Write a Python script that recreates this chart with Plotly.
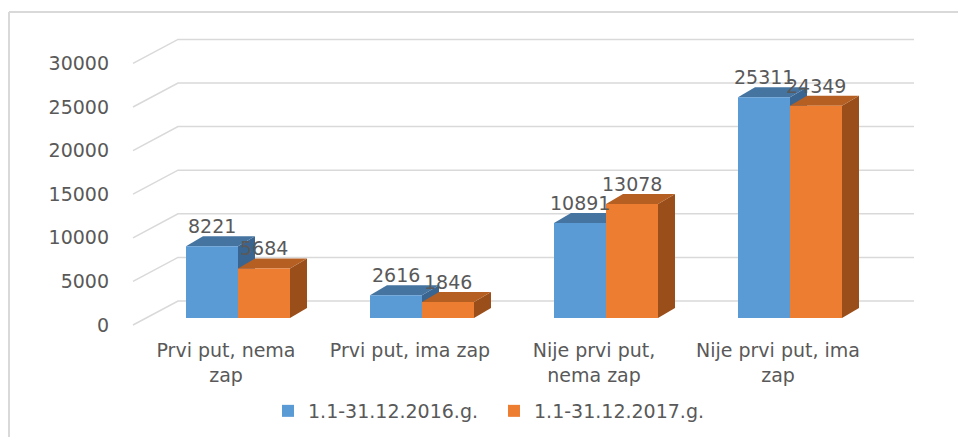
import plotly.graph_objects as go

# ---------------- data ----------------
categories = ["Prvi put, nema zap", "Prvi put, ima zap",
              "Nije prvi put, nema zap", "Nije prvi put, ima zap"]
tick_labels = ["Prvi put, nema<br>zap", "Prvi put, ima zap",
               "Nije prvi put,<br>nema zap", "Nije prvi put, ima<br>zap"]
series_names = ["1.1-31.12.2016.g.", "1.1-31.12.2017.g."]
values_2016 = [8221, 2616, 10891, 25311]
values_2017 = [5684, 1846, 13078, 24349]
y_ticks = [0, 5000, 10000, 15000, 20000, 25000, 30000]
y_tick_labels = ["0", "5000", "10000", "15000", "20000", "25000", "30000"]

# ---------------- layout geometry (pixels) ----------------
W, H = 958, 437
L, R, T, B = 120, 930, 20, 330          # plot area
CAT_PX = 184                              # spacing between categories
CAT0_PX = 238                             # pixel x of category 0 centre
Y0_PX = 318                               # pixel y of value 0 at bar depth
PX_PER_UNIT = 43.6 / 5000

def ux(px):
    return px / CAT_PX

def uy(px):
    return px / PX_PER_UNIT

def xpx(px):
    return (px - CAT0_PX) / CAT_PX

x_range = [xpx(L), xpx(R)]
y_range = [-uy(B - Y0_PX), uy(Y0_PX - T)]

BAR_W = ux(52)
DDX, DDY = ux(17), uy(10)                 # bar depth offsets
FRONT_X, BACK_X, RIGHT_X = xpx(133), xpx(178), xpx(914)
FRONT_DY, BACK_DY = uy(-7), uy(17)

GRID = "#d9d9d9"
TXT = "#595959"
FONT = "DejaVu Sans"
FS = 19

colors = {
    "front": ["#5b9bd5", "#ed7d31"],
    "top": ["#4574a1", "#b55f22"],
    "side": ["#3a6591", "#9a4f1b"],
}

fig = go.Figure()
shapes = []

# back wall / side wall gridlines
for v in y_ticks:
    path = (f"M{FRONT_X},{v + FRONT_DY} L{BACK_X},{v + BACK_DY} "
            f"L{RIGHT_X},{v + BACK_DY}")
    shapes.append(dict(type="path", path=path, xref="x", yref="y",
                       line=dict(color=GRID, width=1.5), layer="below"))

series = [values_2016, values_2017]
offsets = [-BAR_W, 0.0]
for s, vals in enumerate(series):
    fig.add_trace(go.Bar(
        x=list(range(len(categories))), y=vals, name=series_names[s],
        width=BAR_W, offset=offsets[s],
        marker=dict(color=colors["front"][s], line=dict(width=0)),
        customdata=categories,
        hovertemplate="%{customdata}<br>%{y}<extra>" + series_names[s] + "</extra>",
    ))
    for i, v in enumerate(vals):
        x0 = i + offsets[s]
        x1 = x0 + BAR_W
        side = (f"M{x1},0 L{x1 + DDX},{DDY} L{x1 + DDX},{v + DDY} "
                f"L{x1},{v} Z")
        top = (f"M{x0},{v} L{x0 + DDX},{v + DDY} L{x1 + DDX},{v + DDY} "
               f"L{x1},{v} Z")
        shapes.append(dict(type="path", path=side, xref="x", yref="y",
                           fillcolor=colors["side"][s], line=dict(width=0),
                           layer="below"))
        shapes.append(dict(type="path", path=top, xref="x", yref="y",
                           fillcolor=colors["top"][s], line=dict(width=0),
                           layer="below"))

# data labels
annotations = []
for s, vals in enumerate(series):
    for i, v in enumerate(vals):
        annotations.append(dict(
            x=i + offsets[s] + BAR_W / 2, y=v, xref="x", yref="y",
            text=str(v), showarrow=False, yshift=20, yanchor="middle",
            font=dict(family=FONT, size=FS, color=TXT)))

# chart frame (left and top edges)
def px_paper_x(px):
    return (px - L) / (R - L)

def px_paper_y(py):
    return (B - py) / (B - T)

shapes.append(dict(type="line", xref="paper", yref="paper",
                   x0=px_paper_x(9), x1=px_paper_x(958),
                   y0=px_paper_y(12), y1=px_paper_y(12),
                   line=dict(color=GRID, width=2)))
shapes.append(dict(type="line", xref="paper", yref="paper",
                   x0=px_paper_x(9), x1=px_paper_x(9),
                   y0=px_paper_y(12), y1=px_paper_y(437),
                   line=dict(color=GRID, width=2)))

fig.update_layout(
    width=W, height=H,
    margin=dict(l=L, r=W - R, t=T, b=H - B, autoexpand=False),
    paper_bgcolor="white", plot_bgcolor="white",
    font=dict(family=FONT, size=FS, color=TXT),
    barmode="overlay",
    shapes=shapes,
    annotations=annotations,
    showlegend=True,
    legend=dict(orientation="h", xref="container", yref="container",
                x=268 / W, y=1 - 411 / H, xanchor="left", yanchor="middle",
                entrywidth=181, entrywidthmode="pixels",
                font=dict(family=FONT, size=FS, color=TXT),
                bgcolor="rgba(0,0,0,0)"),
)
fig.update_xaxes(range=x_range, tickvals=list(range(len(categories))),
                 ticktext=tick_labels, showgrid=False, zeroline=False,
                 showline=False, ticks="", ticklabelshift=-12,
                 ticklabelstandoff=7, fixedrange=True, automargin=False)
fig.update_yaxes(range=y_range, tickvals=y_ticks, ticktext=y_tick_labels,
                 showgrid=False, zeroline=False, showline=False, ticks="",
                 ticklabelshift=7, ticklabelstandoff=10, fixedrange=True,
                 automargin=False)

fig.write_html("out.html",
               config={"displayModeBar": False},
               post_script="document.body.style.margin='0';"
                           "document.body.style.overflow='hidden';")
